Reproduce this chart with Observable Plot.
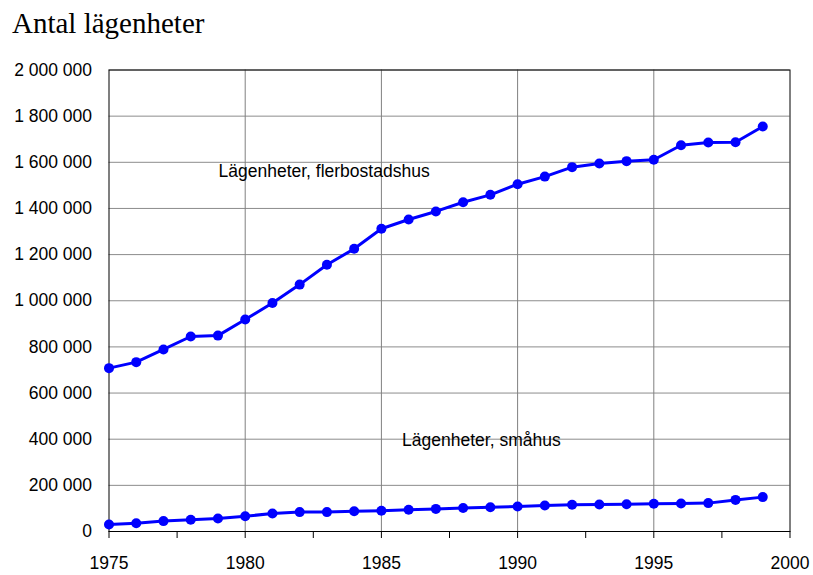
<!DOCTYPE html>
<html>
<head>
<meta charset="utf-8">
<script src="https://cdn.jsdelivr.net/npm/d3@7"></script>
<script src="https://cdn.jsdelivr.net/npm/@observablehq/plot@0.6"></script>
<style>
  html, body { margin: 0; padding: 0; background: #fff; }
  #wrap { position: relative; width: 813px; height: 575px; }
  #title { position: absolute; left: 12px; top: 9px; font-family: "Liberation Serif", "Times New Roman", serif; font-size: 29px; line-height: 29px; color: #000; white-space: nowrap; }
  #chart { position: absolute; left: 0; top: 0; }
</style>
</head>
<body>
<div id="wrap">
  <div id="chart"></div>
  <div id="title">Antal lägenheter</div>
</div>
<script>
const years = [1975,1976,1977,1978,1979,1980,1981,1982,1983,1984,1985,1986,1987,1988,1989,1990,1991,1992,1993,1994,1995,1996,1997,1998,1999];
const flerbostadshus = [708000,734000,789000,845000,849000,919000,990000,1070000,1156000,1225000,1312000,1352000,1387000,1427000,1459000,1505000,1538000,1579000,1595000,1605000,1611000,1674000,1686000,1687000,1755000];
const smahus = [30000,36000,45000,51000,56000,66000,78000,84000,84000,88000,90000,94000,98000,102000,105000,108000,113000,116000,117000,118000,120000,121000,123000,137000,149000];
const seriesNames = ["Lägenheter, flerbostadshus", "Lägenheter, småhus"];
const labelYears = [1979.02, 1985.76];
const labelValues = [1560000, 394000];
const yTicks = [0,200000,400000,600000,800000,1000000,1200000,1400000,1600000,1800000,2000000];
const xLabelTicks = [1975,1980,1985,1990,1995,2000];
const xMinorTicks = [1975,1977.5,1980,1982.5,1985,1987.5,1990,1992.5,1995,1997.5,2000];
const xGridTicks = [1980,1985,1990,1995];

const rows = [];
years.forEach((yr, i) => {
  rows.push({year: yr, value: flerbostadshus[i], series: seriesNames[0]});
  rows.push({year: yr, value: smahus[i], series: seriesNames[1]});
});
const labels = seriesNames.map((s, i) => ({year: labelYears[i], value: labelValues[i], text: s}));

const fmt = d => d3.format(",")(d).replace(/,/g, " ");
const font = '"Liberation Sans", Arial, sans-serif';

const chart = Plot.plot({
  width: 813,
  height: 575,
  marginLeft: 108.5,
  marginRight: 23.5,
  marginTop: 69.5,
  marginBottom: 44,
  style: {fontFamily: font, fontSize: "17.5px", color: "#000", background: "#fff", overflow: "visible"},
  x: {domain: [1975, 2000]},
  y: {domain: [0, 2000000]},
  marks: [
    Plot.gridY(yTicks, {stroke: "#8c8c8c", strokeOpacity: 1, strokeWidth: 1}),
    Plot.gridX(xGridTicks, {stroke: "#808080", strokeOpacity: 1, strokeWidth: 1}),
    Plot.frame({stroke: "#000", strokeWidth: 1}),
    Plot.axisY(yTicks, {tickSize: 0, tickPadding: 17, tickFormat: fmt, label: null, fontSize: 17.5}),
    Plot.axisX(xMinorTicks, {tickSize: 7, tickFormat: () => "", label: null, stroke: "#000"}),
    Plot.axisX(xLabelTicks, {tickSize: 0, tickPadding: 25, tickFormat: d => String(d), label: null, fontSize: 17.5}),
    Plot.line(rows, {x: "year", y: "value", z: "series", stroke: "#0000ff", strokeWidth: 3}),
    Plot.dot(rows, {x: "year", y: "value", r: 5, fill: "#0000ff", stroke: "none"}),
    Plot.text(labels, {x: "year", y: "value", text: "text", textAnchor: "start", fontSize: 17.5, fill: "#000"})
  ]
});
document.getElementById("chart").appendChild(chart);
</script>
</body>
</html>
